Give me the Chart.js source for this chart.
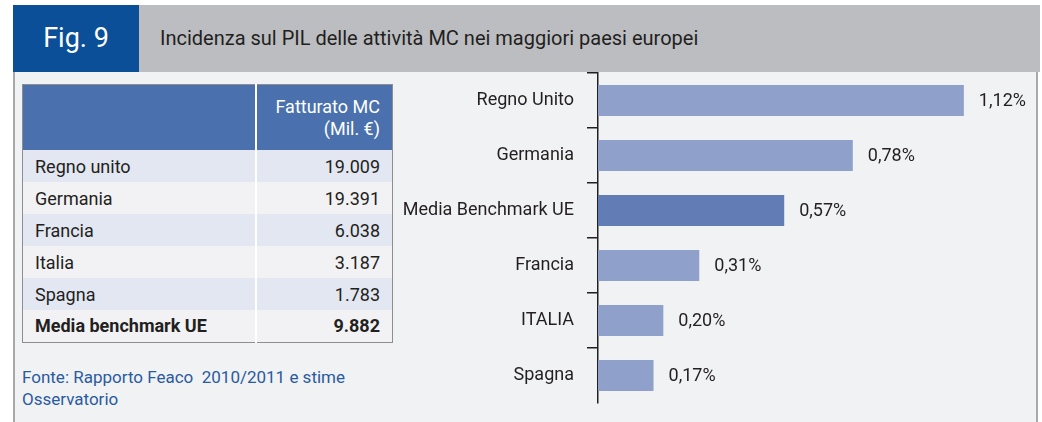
<!DOCTYPE html>
<html>
<head>
<meta charset="utf-8">
<script src="https://cdn.jsdelivr.net/npm/chart.js@4"></script>
<style>
  html, body { margin:0; padding:0; background:#fff; }
  body { width:1042px; height:422px; position:relative; overflow:hidden; font-family:Roboto, "Noto Sans", sans-serif; color:#231f20; }
  .frame { position:absolute; left:13px; top:5px; width:1025px; height:420px; background:#f1f2f4; border-left:2px solid #a9a9ab; border-right:2px solid #a9a9ab; border-top:1px solid #a9a9ab; box-sizing:border-box; }
  .band { position:absolute; left:13px; top:5px; width:1027px; height:67px; background:#bcbdc1; }
  .fig { position:absolute; left:13px; top:5px; width:126px; height:67px; background:#0c4f99; color:#fff; font-size:27px; line-height:67px; text-align:center; }
  .title { position:absolute; left:160px; top:5px; height:67px; line-height:67px; font-size:20px; color:#231f20; white-space:nowrap; }
  table { position:absolute; left:22px; top:84px; width:371px; border-collapse:collapse; border:1.5px solid #8e8e90; font-size:18px; }
  th { background:#4a71ad; color:#fff; font-weight:normal; height:65px; padding:0 12px 0 12px; text-align:right; line-height:22px; }
  td { height:32px; padding:0 12px; box-sizing:border-box; }
  td.v { text-align:right; }
  td:first-child, th:first-child { border-right:2px solid #fff; width:208px; }
  tr.a td { background:#e3e7f1; }
  tr.b td { background:#f2f2f4; }
  tr.tot td { font-weight:bold; background:#f2f2f4; }
  .src { position:absolute; left:22px; top:366px; font-size:17px; color:#2a5aa0; line-height:22px; }
  #wrap { position:absolute; left:390px; top:60px; width:650px; height:355px; }
</style>
</head>
<body>
<div class="frame"></div>
<div class="band"></div>
<div class="fig">Fig. 9</div>
<div class="title">Incidenza sul PIL delle attività MC nei maggiori paesi europei</div>
<table id="tbl"></table>
<div class="src">Fonte: Rapporto Feaco&nbsp; 2010/2011 e stime<br>Osservatorio</div>
<div id="wrap"><canvas id="c"></canvas></div>
<script>
// table (left)
const tableCountries = ['Regno unito', 'Germania', 'Francia', 'Italia', 'Spagna', 'Media benchmark UE'];
const tableRevenue = ['19.009', '19.391', '6.038', '3.187', '1.783', '9.882'];

// bar chart (right)
const countries = ['Regno Unito', 'Germania', 'Media Benchmark UE', 'Francia', 'ITALIA', 'Spagna'];
const gdpShare = [1.12, 0.78, 0.57, 0.31, 0.20, 0.17];
const barColors = ['#8fa1cb', '#8fa1cb', '#627db5', '#8fa1cb', '#8fa1cb', '#8fa1cb'];

const tbl = document.getElementById('tbl');
let html = '<tr><th></th><th>Fatturato MC<br>(Mil. €)</th></tr>';
tableCountries.forEach((c, i) => {
  const last = i === tableCountries.length - 1;
  const cls = last ? 'tot' : (i % 2 === 0 ? 'a' : 'b');
  html += `<tr class="${cls}"><td>${c}</td><td class="v">${tableRevenue[i]}</td></tr>`;
});
tbl.innerHTML = html;

const fmtPct = v => v.toFixed(2).replace('.', ',') + '%';

const valueLabels = {
  id: 'valueLabels',
  afterDatasetsDraw(chart) {
    const ctx = chart.ctx;
    const meta = chart.getDatasetMeta(0);
    ctx.save();
    ctx.font = '18px Roboto';
    ctx.fillStyle = '#231f20';
    ctx.textBaseline = 'middle';
    ctx.textAlign = 'left';
    meta.data.forEach((bar, i) => {
      ctx.fillText(fmtPct(gdpShare[i]), bar.x + 15, bar.y + 1);
    });
    ctx.restore();
  }
};

new Chart(document.getElementById('c'), {
  type: 'bar',
  data: {
    labels: countries,
    datasets: [{
      data: gdpShare,
      backgroundColor: barColors,
      borderWidth: 0,
      categoryPercentage: 1,
      barPercentage: 0.56
    }]
  },
  options: {
    indexAxis: 'y',
    responsive: true,
    maintainAspectRatio: false,
    animation: false,
    layout: { padding: { top: 13, bottom: 12, right: 1, left: 0 } },
    plugins: { legend: { display: false }, tooltip: { enabled: false } },
    scales: {
      x: { display: false, min: 0, max: 1.35 },
      y: {
        // fixed axis width, no extra label padding so the plot spans the full height
        afterFit: s => { s.width = 208; s.paddingTop = 0; s.paddingBottom = 0; },
        border: { display: true, color: '#231f20', width: 1.5 },
        grid: {
          offset: true, drawOnChartArea: false, drawTicks: true, tickLength: 11, lineWidth: 1.5,
          // the closing line at the bottom has no tick mark in the original
          color: c => c.type === 'tick' ? '#231f20' : 'rgba(0,0,0,0)'
        },
        ticks: { color: '#231f20', font: { family: 'Roboto', size: 18 }, padding: 13 }
      }
    }
  },
  plugins: [valueLabels]
});
</script>
</body>
</html>
